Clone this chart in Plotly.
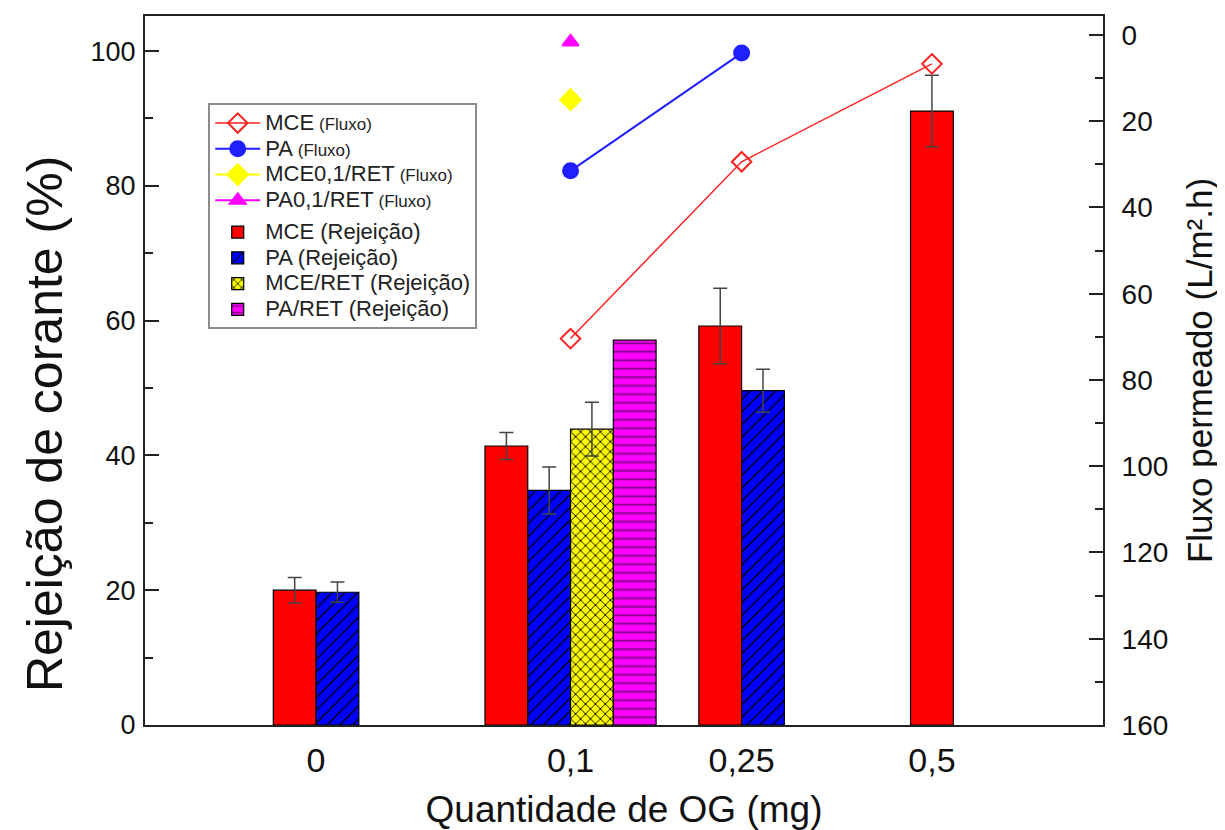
import plotly.graph_objects as go

# ---------------- data ----------------
categories = ["0", "0,1", "0,25", "0,5"]

# Rejection (%) - left axis
mce_rej = [20.0, 41.4, 59.2, 91.1]
mce_rej_err = [1.9, 2.0, 5.6, 5.3]
pa_rej = [19.7, 34.8, 49.6, None]
pa_rej_err = [1.5, 3.5, 3.2, None]
mceret_rej = [None, 43.9, None, None]
mceret_rej_err = [None, 4.0, None, None]
paret_rej = [None, 57.1, None, None]
paret_rej_err = [None, None, None, None]

# Permeate flux (L/m2.h) - right axis (reversed)
mce_flux = [None, 70.4, 29.4, 6.7]
pa_flux = [None, 31.5, 4.2, None]
mceret_flux = [None, 15.0, None, None]
paret_flux = [None, 1.6, None, None]

y_ticks = [0, 20, 40, 60, 80, 100]
y2_ticks = [0, 20, 40, 60, 80, 100, 120, 140, 160]

# ---------------- layout helpers ----------------
group_pos = [4.0, 9.95, 13.95, 18.4]   # positions of the category groups on the x axis
bar_w = 1.0
FONT = "Liberation Sans, Arial, sans-serif"

def rej_name(label):
    return f"<span style='font-size:22px'>{label} (Rejeição)</span>"

def flux_name(label):
    return f"<span style='font-size:22px'>{label}</span> <span style='font-size:17px'>(Fluxo)</span>"

bar_series = [
    dict(name=rej_name("MCE"), vals=mce_rej, err=mce_rej_err,
         color="#FF0000", shape="", fg="#000000", size=8, sol=0.2),
    dict(name=rej_name("PA"), vals=pa_rej, err=pa_rej_err,
         color="#0000FF", shape="/", fg="#000000", size=9, sol=0.15),
    dict(name=rej_name("MCE/RET"), vals=mceret_rej, err=mceret_rej_err,
         color="#FFFF00", shape="x", fg="#000000", size=7, sol=0.25),
    dict(name=rej_name("PA/RET"), vals=paret_rej, err=paret_rej_err,
         color="#FF00FF", shape="-", fg="#7A007A", size=8.5, sol=0.2),
]

# compute bar x positions: bars present in each group are centred on the group position
xpos = {i: [None] * len(categories) for i in range(len(bar_series))}
for g in range(len(categories)):
    present = [i for i, s in enumerate(bar_series) if s["vals"][g] is not None]
    n = len(present)
    for k, i in enumerate(present):
        xpos[i][g] = group_pos[g] + (k - (n - 1) / 2) * bar_w

fig = go.Figure()

for i, s in enumerate(bar_series):
    xs = [x for x, v in zip(xpos[i], s["vals"]) if v is not None]
    ys = [v for v in s["vals"] if v is not None]
    es = [e if e is not None else 0 for e, v in zip(s["err"], s["vals"]) if v is not None]
    has_err = any(e for e in es)
    fig.add_trace(go.Bar(
        x=xs, y=ys, width=bar_w, name=s["name"],
        legendgroup="rej", legendrank=10 + i,
        marker=dict(
            color=s["color"],
            line=dict(color="black", width=1.2),
            pattern=dict(shape=s["shape"], fgcolor=s["fg"], bgcolor=s["color"],
                         size=s["size"], solidity=s["sol"], fillmode="replace"),
        ),
        error_y=dict(type="data", array=es, visible=has_err, color="#444444",
                     thickness=1.5, width=7),
        yaxis="y",
    ))

line_series = [
    dict(name=flux_name("MCE"), vals=mce_flux, color="#FF2020",
         symbol="diamond-open", size=15, lw=1.5),
    dict(name=flux_name("PA"), vals=pa_flux, color="#1F1FFF",
         symbol="circle", size=15, lw=2),
    dict(name=flux_name("MCE0,1/RET"), vals=mceret_flux, color="#FFFF00",
         symbol="diamond", size=16, lw=2),
    dict(name=flux_name("PA0,1/RET"), vals=paret_flux, color="#FF00FF",
         symbol="triangle-up", size=14, lw=2),
]
for i, s in enumerate(line_series):
    xs = [group_pos[g] for g, v in enumerate(s["vals"]) if v is not None]
    ys = [v for v in s["vals"] if v is not None]
    fig.add_trace(go.Scatter(
        x=xs, y=ys, name=s["name"], mode="lines+markers",
        legendgroup="flux", legendrank=i + 1,
        line=dict(color=s["color"], width=s["lw"]),
        marker=dict(symbol=s["symbol"], size=s["size"], color=s["color"],
                    line=dict(color=s["color"], width=2)),
        yaxis="y2",
    ))

fig.update_layout(
    width=1217, height=822,
    margin=dict(l=137, r=122, t=6, b=105),
    paper_bgcolor="white", plot_bgcolor="white",
    barmode="overlay",
    font=dict(family=FONT, color="#111111"),
    showlegend=True,
    legend=dict(
        x=0.066, y=0.877, xanchor="left", yanchor="top",
        bgcolor="white", bordercolor="#8c8c8c", borderwidth=2,
        font=dict(size=17.5, family=FONT, color="#222222"),
        tracegroupgap=6, traceorder="grouped", itemwidth=45,
    ),
    xaxis=dict(
        range=[0, 22.4], tickmode="array", tickvals=group_pos, ticktext=categories,
        ticks="", showgrid=False, zeroline=False,
        showline=True, linecolor="#222222", linewidth=2, mirror=True,
        tickfont=dict(size=34, family=FONT), ticklabelstandoff=4,
        title=dict(text="Quantidade de OG (mg)", font=dict(size=37, family=FONT), standoff=18),
    ),
    yaxis=dict(
        range=[0, 105.2], tickmode="array", tickvals=y_ticks,
        ticks="inside", ticklen=14, tickwidth=2, tickcolor="#222222",
        minor=dict(ticks="inside", ticklen=8, tickwidth=2, tickcolor="#222222", dtick=10, showgrid=False),
        showgrid=False, zeroline=False,
        showline=True, linecolor="#222222", linewidth=2,
        tickfont=dict(size=27, family=FONT), ticklabelstandoff=2,
    ),
    yaxis2=dict(
        overlaying="y", side="right",
        range=[160, -4.4], tickmode="array", tickvals=y2_ticks,
        ticks="inside", ticklen=14, tickwidth=2, tickcolor="#222222",
        minor=dict(ticks="inside", ticklen=8, tickwidth=2, tickcolor="#222222", dtick=10, showgrid=False),
        showgrid=False, zeroline=False,
        showline=True, linecolor="#222222", linewidth=2,
        tickfont=dict(size=28, family=FONT), ticklabelstandoff=11,
        title=dict(text="Fluxo permeado (L/m².h)", font=dict(size=35, family=FONT), standoff=20),
    ),
    annotations=[dict(
        text="Rejeição de corante (%)", textangle=-90,
        xref="paper", yref="paper", x=-0.105, y=0.425,
        xanchor="center", yanchor="middle", showarrow=False,
        font=dict(size=50, family=FONT, color="#111111"),
    )],
)

fig.write_html("out.html")
